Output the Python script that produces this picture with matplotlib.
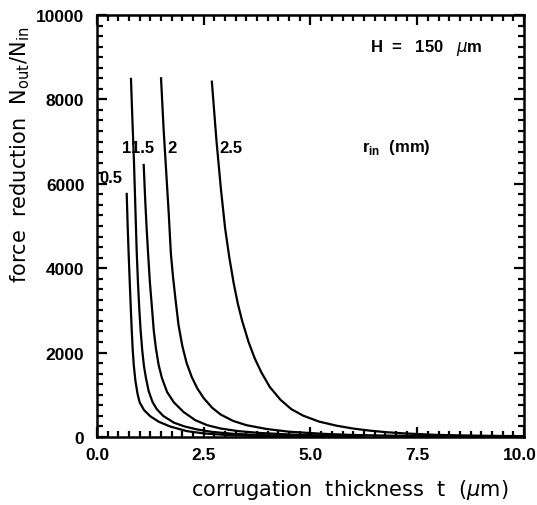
import matplotlib
matplotlib.use("Agg")
import matplotlib.pyplot as plt
from matplotlib.ticker import MultipleLocator
from matplotlib.transforms import ScaledTranslation

# r_in (mm) curves: corrugation thickness t (um) vs force reduction N_out/N_in
t_05 = [0.696, 0.72, 0.745, 0.77, 0.79, 0.813, 0.835, 0.86, 0.90, 0.95, 1.00, 1.10, 1.25, 1.45, 1.71, 2.10, 2.50, 3.00, 3.60, 4.50]
n_05 = [5760, 4950, 4250, 3600, 3100, 2550, 2100, 1720, 1330, 1020, 820, 640, 490, 360, 250, 140, 85, 50, 30, 15]

t_10 = [0.796, 0.83, 0.867, 0.90, 0.93, 0.96, 0.99, 1.02, 1.06, 1.10, 1.15, 1.21, 1.30, 1.40, 1.55, 1.80, 2.05, 2.34, 2.70, 3.20, 3.80, 4.50, 5.50]
n_10 = [8485, 7500, 6500, 5400, 4400, 3650, 3050, 2550, 2050, 1680, 1380, 1090, 830, 660, 500, 340, 250, 180, 120, 75, 45, 28, 15]

t_15 = [1.094, 1.13, 1.165, 1.20, 1.24, 1.29, 1.33, 1.38, 1.445, 1.52, 1.64, 1.80, 2.03, 2.30, 2.58, 2.90, 3.30, 3.82, 4.50, 5.30, 6.20]
n_15 = [6446, 5600, 4900, 4300, 3650, 3030, 2520, 2100, 1700, 1400, 1070, 820, 590, 400, 280, 200, 140, 95, 60, 35, 20]

t_20 = [1.50, 1.56, 1.62, 1.68, 1.73, 1.78, 1.84, 1.91, 2.00, 2.10, 2.22, 2.35, 2.50, 2.70, 2.90, 3.19, 3.50, 3.97, 4.50, 5.30, 5.93, 6.60, 7.50, 8.50, 10.0]
n_20 = [8500, 7300, 6300, 5300, 4350, 3800, 3250, 2650, 2150, 1750, 1420, 1150, 920, 690, 530, 380, 280, 190, 125, 75, 50, 35, 25, 18, 12]

t_25 = [2.69, 2.80, 2.90, 3.00, 3.10, 3.20, 3.30, 3.40, 3.55, 3.70, 3.85, 4.05, 4.30, 4.55, 4.83, 5.20, 5.61, 6.00, 6.39, 6.80, 7.17, 7.60, 7.96, 8.50, 9.00, 9.50, 10.0]
n_25 = [8420, 7000, 5900, 4950, 4250, 3650, 3150, 2750, 2250, 1850, 1530, 1180, 880, 660, 505, 365, 268, 200, 150, 112, 87, 65, 50, 38, 30, 24, 20]

curve_labels = ["0.5", "1", "1.5", "2", "2.5"]
label_pos_t = [0.06, 0.58, 0.79, 1.66, 2.86]
label_pos_n = [6160, 6870, 6870, 6870, 6870]

x_ticks = [0, 2.5, 5, 7.5, 10]
x_tick_labels = ["0.0", "2.5", "5.0", "7.5", "10.0"]

plt.rcParams['font.family'] = ['Liberation Sans', 'DejaVu Sans']
plt.rcParams['mathtext.fontset'] = 'dejavusans'

fig = plt.figure(figsize=(5.37, 5.06), dpi=100)
ax = fig.add_axes([0.1806, 0.1344, 0.7952, 0.834])

for t, n in [(t_05, n_05), (t_10, n_10), (t_15, n_15), (t_20, n_20), (t_25, n_25)]:
    ax.plot(t, n, color='black', lw=1.6, solid_joinstyle='round')

for lab, x, y in zip(curve_labels, label_pos_t, label_pos_n):
    ax.text(x, y, lab, fontsize=12, fontweight='bold', ha='left', va='center')

ax.text(6.4, 9250, r"H  =   150   $\mu$m", fontsize=12, fontweight='bold', ha='left', va='center')
ax.text(6.2, 6890, r"r$_{\mathregular{in}}$  (mm)", fontsize=12, fontweight='bold', ha='left', va='center')

ax.set_xlim(0, 10)
ax.set_ylim(0, 10000)
ax.set_xticks(x_ticks)
ax.set_xticklabels(x_tick_labels)
ax.xaxis.set_minor_locator(MultipleLocator(0.25))
ax.yaxis.set_major_locator(MultipleLocator(2000))
ax.yaxis.set_minor_locator(MultipleLocator(250))
ax.tick_params(which='both', direction='in', top=True, right=True, width=1.6, labelsize=12.5)
ax.tick_params(which='major', length=7)
ax.tick_params(which='minor', length=4.5)
ax.tick_params(axis='y', which='major', pad=9)
ax.tick_params(axis='x', which='major', pad=7)
for lab in ax.get_xticklabels() + ax.get_yticklabels():
    lab.set_fontweight('bold')
last = ax.get_xticklabels()[-1]
last.set_transform(last.get_transform() + ScaledTranslation(-4 / 100, 0, fig.dpi_scale_trans))
for s in ax.spines.values():
    s.set_linewidth(1.8)

fig.text(350 / 537, 1 - 490 / 506, r"corrugation  thickness  t  ($\mu$m)",
         fontsize=15, family='DejaVu Sans', ha='center', va='center')
fig.text(20 / 537, 1 - 155 / 506, r"force  reduction  N$_{\mathregular{out}}$/N$_{\mathregular{in}}$",
         fontsize=15, family='DejaVu Sans', ha='center', va='center', rotation=90)

fig.savefig("out.png", dpi=100)
